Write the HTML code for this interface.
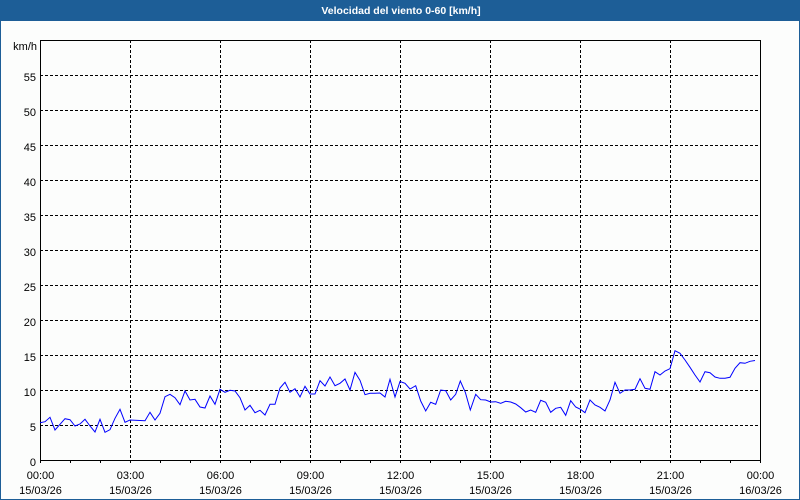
<!DOCTYPE html>
<html><head><meta charset="utf-8"><style>
html,body{margin:0;padding:0;background:#fcfdfc;}
svg{display:block;}
text{font-family:"Liberation Sans",sans-serif;}
</style></head><body>
<svg width="800" height="500" viewBox="0 0 800 500" xmlns="http://www.w3.org/2000/svg">
<rect x="0" y="0" width="800" height="500" fill="#fcfdfc"/>
<rect x="0" y="0" width="800" height="21" fill="#1d5e97"/>
<rect x="0" y="0" width="1" height="500" fill="#1d5e97"/>
<rect x="799" y="0" width="1" height="500" fill="#1d5e97"/>
<rect x="0" y="499" width="800" height="1" fill="#1d5e97"/>
<text x="401" y="14" fill="#fff" font-size="10.5" font-weight="bold" text-anchor="middle">Velocidad del viento 0-60 [km/h]</text>
<g stroke="#000" stroke-width="1" stroke-dasharray="3,2" shape-rendering="crispEdges">
<line x1="40" y1="75.5" x2="760" y2="75.5"/>
<line x1="40" y1="110.5" x2="760" y2="110.5"/>
<line x1="40" y1="145.5" x2="760" y2="145.5"/>
<line x1="40" y1="180.5" x2="760" y2="180.5"/>
<line x1="40" y1="215.5" x2="760" y2="215.5"/>
<line x1="40" y1="250.5" x2="760" y2="250.5"/>
<line x1="40" y1="285.5" x2="760" y2="285.5"/>
<line x1="40" y1="320.5" x2="760" y2="320.5"/>
<line x1="40" y1="355.5" x2="760" y2="355.5"/>
<line x1="40" y1="390.5" x2="760" y2="390.5"/>
<line x1="40" y1="425.5" x2="760" y2="425.5"/>
<line x1="130.5" y1="40" x2="130.5" y2="460"/>
<line x1="220.5" y1="40" x2="220.5" y2="460"/>
<line x1="310.5" y1="40" x2="310.5" y2="460"/>
<line x1="400.5" y1="40" x2="400.5" y2="460"/>
<line x1="490.5" y1="40" x2="490.5" y2="460"/>
<line x1="580.5" y1="40" x2="580.5" y2="460"/>
<line x1="670.5" y1="40" x2="670.5" y2="460"/>
</g>
<g stroke="#000" stroke-width="1" shape-rendering="crispEdges">
<rect x="40.5" y="40.5" width="720" height="420" fill="none"/>
<path d="M70.5 460v3M100.5 460v3M130.5 460v3M160.5 460v3M190.5 460v3M220.5 460v3M250.5 460v3M280.5 460v3M310.5 460v3M340.5 460v3M370.5 460v3M400.5 460v3M430.5 460v3M460.5 460v3M490.5 460v3M520.5 460v3M550.5 460v3M580.5 460v3M610.5 460v3M640.5 460v3M670.5 460v3M700.5 460v3M730.5 460v3M760.5 460v3M40.5 460v3"/>
</g>
<polyline fill="none" stroke="#0000ff" stroke-width="1" points="40,422.7 45,421.7 50,417.3 55,430 60,424.3 65,418.7 70,419.7 75,426 80,424 85,419.3 90,426 95,432 100,419.3 105,432.3 110,429.7 115,418.3 120,409.3 125,422.3 130,420 145,420.7 150,412.3 155,420 160,413.3 165,396.7 170,394.3 175,397.7 180,404.7 185,391 190,400 195,399.3 200,407 205,408 210,396 215,404.3 220,389.3 225,392.3 230,390.3 235,391 240,397.7 245,410 250,405.3 255,412.7 260,410.3 265,415 270,404.3 275,404.3 280,388 285,382.3 290,392.3 295,388.7 300,397 305,386.3 310,394 315,394 320,380.7 325,386 330,377 335,385.7 340,383.3 345,379 350,390 355,372.3 360,380.3 365,394.7 370,393.3 375,393.3 380,393 385,397 390,379.3 395,397 400,381.5 405,383.3 410,389 415.7,385.7 420.7,401 425.7,411 430.7,402.3 435.7,404.3 440.7,390 445.7,390.7 450.7,400 455.7,394.3 460.3,381 465.3,392.3 470.3,410 475.7,394.3 480.7,399.7 485.7,400 490.7,402 495.7,401.7 500.7,403.3 505.7,401.3 510.7,402 515.7,404 520.7,407.7 525.7,412 530.7,410 535.7,412.3 540.7,400.3 545.7,402.3 550.7,412.3 555.7,408.3 560.7,407.3 565.7,415.3 570.7,400.7 575.7,407 580.5,409.3 585,412.7 590,400 595,405 600,407.3 605,411 610,400 615,382.3 620,393.3 625,390 630,390 635,389.3 640,378.7 645,388.3 650,389.3 655,371.7 660,375 665,371 670,368.7 675,350.7 680,353.3 685,360 690,367.3 695,375 700,382 705,371.7 710,372.7 715,377 720,378.3 725,378.3 730,377.3 735,368.3 740,362.7 745,363.3 750,361.3 755,360.5"/>
<g font-size="11" fill="#000" text-anchor="end">
<text x="37" y="50">km/h</text>
<text x="36" y="81">55</text>
<text x="36" y="116">50</text>
<text x="36" y="151">45</text>
<text x="36" y="186">40</text>
<text x="36" y="221">35</text>
<text x="36" y="256">30</text>
<text x="36" y="291">25</text>
<text x="36" y="326">20</text>
<text x="36" y="361">15</text>
<text x="36" y="396">10</text>
<text x="36" y="431">5</text>
<text x="36" y="466">0</text>
</g>
<g font-size="11" fill="#000" text-anchor="middle">
<text x="40.5" y="479">00:00</text><text x="40.5" y="494">15/03/26</text>
<text x="130.5" y="479">03:00</text><text x="130.5" y="494">15/03/26</text>
<text x="220.5" y="479">06:00</text><text x="220.5" y="494">15/03/26</text>
<text x="310.5" y="479">09:00</text><text x="310.5" y="494">15/03/26</text>
<text x="400.5" y="479">12:00</text><text x="400.5" y="494">15/03/26</text>
<text x="490.5" y="479">15:00</text><text x="490.5" y="494">15/03/26</text>
<text x="580.5" y="479">18:00</text><text x="580.5" y="494">15/03/26</text>
<text x="670.5" y="479">21:00</text><text x="670.5" y="494">15/03/26</text>
<text x="760.5" y="479">00:00</text><text x="760.5" y="494">16/03/26</text>
</g>
</svg>
</body></html>
